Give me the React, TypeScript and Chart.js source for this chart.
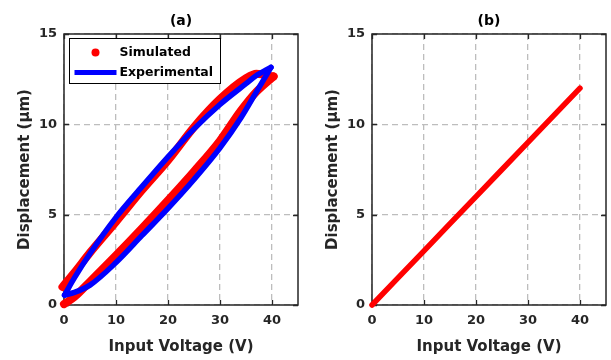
import React, { useEffect, useRef } from "react";
import { Chart, registerables } from "chart.js";

Chart.register(...registerables);

const FONT = "'DejaVu Sans', 'Liberation Sans', sans-serif";
const TXT = "#262626";
const GRID = "#bdbdbd";

// Axis ticks
const xTickValues = [0, 10, 20, 30, 40];
const yTickValues = [0, 5, 10, 15];
const xMax = 45;
const yMax = 15;

// Panel (a) – experimental loop (blue), both branches listed by rising voltage
const expLowerV = [0.1, 2, 5, 10, 15, 20, 25, 30, 34, 37, 39.8];
const expLowerD = [0.55, 0.7, 1.1, 2.35, 3.85, 5.35, 6.95, 8.7, 10.35, 11.8, 13.15];
const expUpperV = [0.1, 2, 5, 10, 15, 20, 25, 30, 35, 37, 39.8];
const expUpperD = [0.55, 1.5, 2.85, 4.85, 6.55, 8.2, 9.75, 11.1, 12.25, 12.7, 13.15];

// Panel (a) – simulated loop (red)
const simLowerV = [0, 2, 5, 10, 15, 20, 25, 30, 34, 37, 40.3];
const simLowerD = [0.05, 0.45, 1.3, 2.75, 4.25, 5.8, 7.4, 9.1, 10.75, 11.8, 12.65];
const simUpperV = [-0.3, 2, 5, 10, 15, 20, 25, 30, 35, 37, 40.3];
const simUpperD = [1.0, 1.8, 2.9, 4.6, 6.35, 8.0, 9.85, 11.4, 12.55, 12.8, 12.65];

// Panel (b) – compensated (linear) response
const linV = [0, 10, 20, 30, 40];
const linD = [0, 3, 6, 9, 12];

const legendLabels = ["Simulated", "Experimental"];
const panelTitles = ["(a)", "(b)"];
const xTitle = "Input Voltage (V)";
const yTitle = "Displacement (\u03bcm)";

const toPts = (xs: number[], ys: number[]) => xs.map((x, i) => ({ x, y: ys[i] }));

const decoPlugin = {
  id: "panelDeco",
  beforeDatasetsDraw(chart: any, _args: any, opts: any) {
    const { ctx, chartArea: ca, scales } = chart;
    ctx.save();
    ctx.strokeStyle = TXT;
    ctx.lineWidth = 1.5;
    ctx.strokeRect(ca.left, ca.top, ca.right - ca.left, ca.bottom - ca.top);
    ctx.lineWidth = 1.3;
    ctx.beginPath();
    xTickValues.forEach((v) => {
      const px = Math.round(scales.x.getPixelForValue(v)) + 0.5;
      ctx.moveTo(px, ca.bottom);
      ctx.lineTo(px, ca.bottom - 5);
      ctx.moveTo(px, ca.top);
      ctx.lineTo(px, ca.top + 5);
    });
    yTickValues.forEach((v) => {
      const py = Math.round(scales.y.getPixelForValue(v)) + 0.5;
      ctx.moveTo(ca.left, py);
      ctx.lineTo(ca.left + 5, py);
      ctx.moveTo(ca.right, py);
      ctx.lineTo(ca.right - 5, py);
    });
    ctx.stroke();
    ctx.fillStyle = "#000";
    ctx.font = `bold 14px ${FONT}`;
    ctx.textAlign = "center";
    ctx.textBaseline = "middle";
    ctx.fillText(opts.title, (ca.left + ca.right) / 2, ca.top - 13);
    ctx.restore();
  },
  afterDraw(chart: any, _args: any, opts: any) {
    if (!opts.legend) return;
    const { ctx, chartArea: ca } = chart;
    const bx = ca.left + 5.5;
    const by = ca.top + 4.5;
    ctx.save();
    ctx.fillStyle = "#fff";
    ctx.fillRect(bx, by, 151, 45);
    ctx.strokeStyle = "#000";
    ctx.lineWidth = 1;
    ctx.strokeRect(bx, by, 151, 45);
    ctx.fillStyle = "#ff0000";
    ctx.beginPath();
    ctx.arc(bx + 26, by + 14, 4, 0, Math.PI * 2);
    ctx.fill();
    ctx.strokeStyle = "#0000ff";
    ctx.lineWidth = 5;
    ctx.beginPath();
    ctx.moveTo(bx + 5, by + 34);
    ctx.lineTo(bx + 47, by + 34);
    ctx.stroke();
    ctx.fillStyle = "#000";
    ctx.font = `bold 12.5px ${FONT}`;
    ctx.textAlign = "left";
    ctx.textBaseline = "middle";
    ctx.fillText(legendLabels[0], bx + 50, by + 14);
    ctx.fillText(legendLabels[1], bx + 50, by + 34);
    ctx.restore();
  },
};

function makeConfig(opts: {
  title: string;
  yWidth: number;
  padRight: number;
  yTitlePad: number;
  legend: boolean;
  datasets: any[];
}): any {
  return {
    type: "line",
    data: { datasets: opts.datasets },
    plugins: [decoPlugin],
    options: {
      responsive: false,
      animation: false,
      devicePixelRatio: 1,
      layout: { padding: { left: 0, right: opts.padRight, top: 34, bottom: 0 } },
      plugins: {
        legend: { display: false },
        tooltip: { enabled: false },
        title: { display: false },
        panelDeco: { title: opts.title, legend: opts.legend },
      },
      elements: { point: { radius: 0 } },
      scales: {
        x: {
          type: "linear",
          min: 0,
          max: xMax,
          afterBuildTicks: (s: any) => {
            s.ticks = xTickValues.map((v) => ({ value: v }));
          },
          afterFit: (s: any) => {
            s.height = 55;
          },
          grid: { color: GRID, lineWidth: 1.3, drawTicks: false },
          border: { display: false, dash: [6, 4] },
          ticks: {
            color: TXT,
            font: { family: FONT, size: 13, weight: "bold" },
            padding: 8,
            maxRotation: 0,
            callback: (v: any) => String(v),
          },
          title: {
            display: true,
            text: xTitle,
            color: TXT,
            font: { family: FONT, size: 15, weight: "bold" },
            padding: { top: 0, bottom: 4 },
          },
        },
        y: {
          type: "linear",
          min: 0,
          max: yMax,
          afterBuildTicks: (s: any) => {
            s.ticks = yTickValues.map((v) => ({ value: v }));
          },
          afterFit: (s: any) => {
            s.width = opts.yWidth;
          },
          grid: { color: GRID, lineWidth: 1.3, drawTicks: false },
          border: { display: false, dash: [6, 4] },
          ticks: {
            color: TXT,
            font: { family: FONT, size: 13, weight: "bold" },
            padding: 7,
            callback: (v: any) => String(v),
          },
          title: {
            display: true,
            text: yTitle,
            color: TXT,
            font: { family: FONT, size: 15, weight: "bold" },
            padding: { top: opts.yTitlePad, bottom: 0 },
          },
        },
      },
    },
  };
}

const lineDs = (pts: any[], color: string, width: number) => ({
  data: pts,
  borderColor: color,
  backgroundColor: color,
  borderWidth: width,
  pointRadius: 0,
  cubicInterpolationMode: "monotone",
  fill: false,
  clip: 6,
  borderCapStyle: "round",
  borderJoinStyle: "round",
});

function Panel({ left, width, config }: { left: number; width: number; config: () => any }) {
  const ref = useRef<HTMLCanvasElement | null>(null);
  useEffect(() => {
    const c = new Chart(ref.current as HTMLCanvasElement, config());
    return () => c.destroy();
  }, []);
  return (
    <canvas
      ref={ref}
      width={width}
      height={360}
      style={{ position: "absolute", left, top: 0, width, height: 360, display: "block" }}
    />
  );
}

export default function App() {
  const cfgA = () =>
    makeConfig({
      title: panelTitles[0],
      yWidth: 64,
      padRight: 7,
      yTitlePad: 16,
      legend: true,
      datasets: [
        lineDs(toPts(expLowerV, expLowerD), "#0000ff", 5.5),
        lineDs(toPts(expUpperV, expUpperD), "#0000ff", 5.5),
        lineDs(toPts(simLowerV, simLowerD), "#ff0000", 8),
        lineDs(toPts(simUpperV, simUpperD), "#ff0000", 8),
      ],
    });
  const cfgB = () =>
    makeConfig({
      title: panelTitles[1],
      yWidth: 67,
      padRight: 5,
      yTitlePad: 19,
      legend: false,
      datasets: [lineDs(toPts(linV, linD), "#ff0000", 5.5)],
    });
  return (
    <div style={{ position: "absolute", left: 0, top: 0, width: 611, height: 360, background: "#fff" }}>
      <Panel left={0} width={305} config={cfgA} />
      <Panel left={305} width={306} config={cfgB} />
    </div>
  );
}
